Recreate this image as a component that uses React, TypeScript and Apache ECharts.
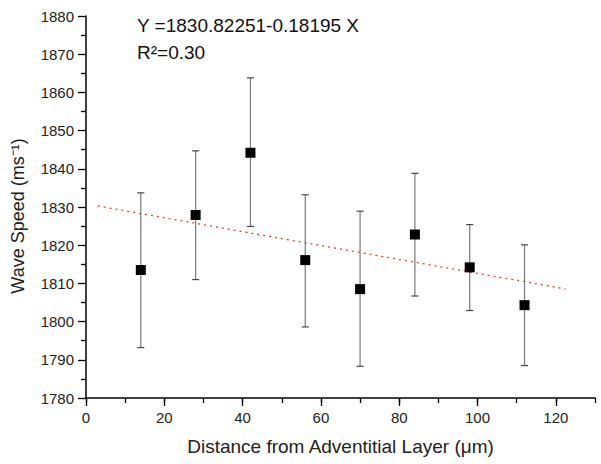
import React, { useEffect, useRef } from "react";
import * as echarts from "echarts";

const xValues = [14, 28, 42, 56, 70, 84, 98, 112];
const meanSpeed = [1813.5, 1827.9, 1844.2, 1816.1, 1808.5, 1822.8, 1814.2, 1804.3];
const upperSpeed = [1833.7, 1844.7, 1863.8, 1833.2, 1828.9, 1838.8, 1825.4, 1820.1];
const lowerSpeed = [1793.2, 1811.0, 1824.9, 1798.6, 1788.3, 1806.7, 1802.9, 1788.5];
const fitX = [3, 122.5];
const fitY = [1830.28, 1808.53];
const xMajorTicks = [0, 20, 40, 60, 80, 100, 120];
const equationText = "Y =1830.82251-0.18195 X";
const r2Text = "R\u00B2=0.30";
const yAxisTitle = "Wave Speed (ms\u207B\u00B9)";
const xAxisTitle = "Distance from Adventitial Layer (\u03BCm)";

const FONT = "'Liberation Sans', Arial, Helvetica, sans-serif";

export default function App() {
  const ref = useRef<HTMLDivElement>(null);
  useEffect(() => {
    document.body.style.margin = "0";
    const chart = echarts.init(ref.current!, null, { renderer: "svg" });
    const axisLine = { show: true, lineStyle: { color: "#000", width: 1.5 } };
    chart.setOption({
      animation: false,
      backgroundColor: "#fff",
      textStyle: { fontFamily: FONT },
      grid: { left: 86, right: 6, top: 16, bottom: 66 },
      xAxis: [
        {
          type: "value",
          min: 0,
          max: 130,
          interval: 10,
          position: "bottom",
          axisLine,
          axisTick: { show: true, length: 5, lineStyle: { color: "#000", width: 1.3 } },
          axisLabel: {
            margin: 12,
            fontSize: 15,
            color: "#222",
            fontFamily: FONT,
            formatter: (v: number) => (v % 20 === 0 && v <= 120 ? String(v) : ""),
          },
          splitLine: { show: false },
          name: xAxisTitle,
          nameLocation: "middle",
          nameGap: 39,
          nameTextStyle: { fontSize: 19, color: "#222", fontFamily: FONT },
        },
        {
          type: "value",
          min: 0,
          max: 130,
          position: "bottom",
          axisLine: { show: false },
          axisTick: {
            show: true,
            length: 8,
            customValues: xMajorTicks,
            lineStyle: { color: "#000", width: 1.3 },
          },
          axisLabel: { show: false },
          splitLine: { show: false },
        },
      ],
      yAxis: {
        type: "value",
        min: 1780,
        max: 1880,
        interval: 10,
        axisLine,
        axisTick: { show: true, length: 8, lineStyle: { color: "#000", width: 1.3 } },
        minorTick: { show: true, splitNumber: 2, length: 5, lineStyle: { color: "#000", width: 1.3 } },
        minorSplitLine: { show: false },
        splitLine: { show: false },
        axisLabel: {
          margin: 12,
          fontSize: 15,
          color: "#222",
          fontFamily: FONT,
          formatter: (v: number) => String(v),
        },
      },
      graphic: [
        {
          type: "text",
          left: 137,
          top: 16,
          style: { text: equationText, fontSize: 19, fill: "#111", fontFamily: FONT },
        },
        {
          type: "text",
          left: 137,
          top: 43,
          style: { text: r2Text, fontSize: 19, fill: "#111", fontFamily: FONT },
        },
        {
          type: "text",
          x: 18,
          y: 216,
          rotation: Math.PI / 2,
          style: {
            text: yAxisTitle,
            fontSize: 18,
            fill: "#222",
            fontFamily: FONT,
            align: "center",
            verticalAlign: "middle",
          },
        },
      ],
      series: [
        {
          type: "line",
          data: fitX.map((x, i) => [x, fitY[i]]),
          showSymbol: false,
          symbol: "none",
          lineStyle: { color: "#e0403c", width: 1.3, type: [2, 4] },
          z: 1,
        },
        {
          type: "custom",
          data: xValues.map((x, i) => [x, lowerSpeed[i], upperSpeed[i]]),
          encode: { x: 0, y: [1, 2] },
          z: 2,
          renderItem: (params: any, api: any) => {
            const x = api.value(0);
            const pLo = api.coord([x, api.value(1)]);
            const pHi = api.coord([x, api.value(2)]);
            const w = 3.5;
            const st = { stroke: "#7a7a7a", lineWidth: 1.2 };
            const cap = { stroke: "#444", lineWidth: 1.2 };
            return {
              type: "group",
              children: [
                { type: "line", shape: { x1: pHi[0], y1: pHi[1], x2: pLo[0], y2: pLo[1] }, style: st },
                { type: "line", shape: { x1: pHi[0] - w, y1: pHi[1], x2: pHi[0] + w, y2: pHi[1] }, style: cap },
                { type: "line", shape: { x1: pLo[0] - w, y1: pLo[1], x2: pLo[0] + w, y2: pLo[1] }, style: cap },
              ],
            };
          },
        },
        {
          type: "scatter",
          data: xValues.map((x, i) => [x, meanSpeed[i]]),
          symbol: "rect",
          symbolSize: 10,
          itemStyle: { color: "#000", opacity: 1 },
          z: 3,
        },
      ],
    });
    return () => chart.dispose();
  }, []);
  return <div ref={ref} style={{ width: 601, height: 464 }} />;
}
